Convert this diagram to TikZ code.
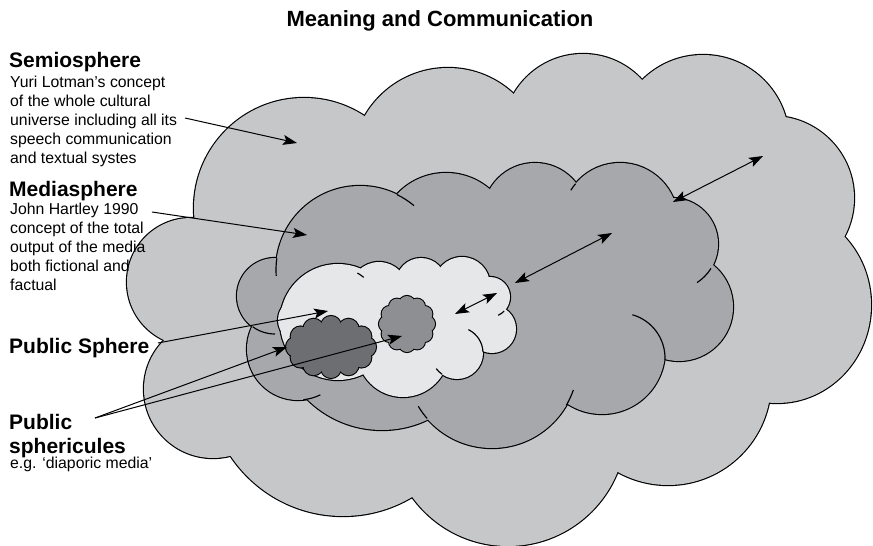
\documentclass[tikz,border=0pt]{standalone}
\usepackage{fontspec}
\setmainfont{Liberation Sans}
\usetikzlibrary{arrows.meta}

\definecolor{semio}{HTML}{C6C7C9}
\definecolor{media}{HTML}{A7A8AB}
\definecolor{publ}{HTML}{E6E7E8}
\definecolor{sphdark}{HTML}{6D6E71}
\definecolor{sphmid}{HTML}{8E8F92}

% lobes of each cloud: centre x / centre y / x radius / y radius
\newcommand\semiolobes{304/208/110/110, 448/164/96/96, 583/134/80/80,
  703/141/86/86, 772/198/82/82, 777/305/94/98, 668/382/103/103,
  508/428/118/118, 343/381/135/135, 213/389/69/69, 191/282/64/64}
\newcommand\medialobes{360/270/84/84, 446/240/67/67, 535/215/52/52,
  620/221/58/58, 672/244/46/46, 679/307/54/54, 602/351/63/63,
  492/362/86/86, 382/324/106/106, 298/349/51/51, 275/296/38/38}
\newcommand\publobes{338/308/40/40, 379/291/29/29, 421/283/25/25,
  462/285/28/28, 490/297/20/20, 492/329/24/24, 457/353/26/26,
  403/351/46/46, 338/322/58/58, 300/320/22/22}

% a cloud = union of lobes: thick outlines first, then the fill hides
% the inner half of every stroke and all inner crossings
\newcommand\cloudshape[3]{%
  \foreach \cx/\cy/\rx/\ry in #1 {
    \draw[line width=2.3pt] (\cx,\cy) ellipse[x radius=\rx pt, y radius=\ry pt];}
  \foreach \cx/\cy/\rx/\ry in #1 {
    \fill[#3] (\cx,\cy) ellipse[x radius=\rx pt, y radius=\ry pt];}
  \fill[#3] #2;
}
% loose end of a lobe outline running on inside the cloud:
% centre x, centre y, radius, from / to angle (clockwise, screen sense)
\newcommand\stub[5]{%
  \draw[line width=1.15pt] ([shift={(-#4:#3pt)}]#1,#2) arc[start angle=-#4, end angle=-#5, radius=#3pt];
}
% small scalloped cloud: ring of bumps round an elliptic core
\newcommand\puff[6]{% cx, cy, ring rx, ring ry, bump radius, colour
  \foreach \a in {0,30,...,330} {
    \draw[line width=2.1pt] ({#1+#3*cos(\a)},{#2+#4*sin(\a)}) circle[radius=#5pt];}
  \foreach \a in {0,30,...,330} {
    \fill[#6] ({#1+#3*cos(\a)},{#2+#4*sin(\a)}) circle[radius=#5pt];}
  \fill[#6] (#1,#2) ellipse[x radius=#3 pt, y radius=#4 pt];
}

\tikzset{
  tip/.tip={Stealth[length=14pt,width=10pt,inset=3pt]},
  ptr/.style={line width=1pt, -tip},
  dptr/.style={line width=1pt, tip-tip},
  heading/.style={font=\bfseries\fontsize{21}{24}\selectfont, inner sep=0pt,
    anchor=base west, align=left},
  body/.style={font=\fontsize{15.8}{19}\selectfont, inner sep=0pt,
    anchor=base west, align=left},
}

\begin{document}
\begin{tikzpicture}[x=1pt,y=-1pt]
\useasboundingbox (0,0) rectangle (873,546);

% nested spheres
\cloudshape{\semiolobes}{(378,130) -- (515,112) -- (637,101) -- (772,133) -- (823,236)
  -- (755,381) -- (614,452) -- (416,477) -- (249,446) -- (185,338) -- (212,228) -- cycle}{semio}
\cloudshape{\medialobes}{(290,263) -- (399,208) -- (490,202) -- (575,196) -- (663,208)
  -- (697,270) -- (656,348) -- (562,392) -- (427,406) -- (310,384) -- (265,326) -- cycle}{media}
\stub{360}{270}{84}{188}{176}
\stub{360}{270}{84}{-64}{-50}
\stub{620}{221}{58}{220}{212}
\stub{672}{244}{46}{32}{57}
\stub{620}{358}{45}{2}{-74}
\stub{492}{362}{86}{30}{19}
\stub{492}{362}{86}{139}{149}
\stub{298}{349}{51}{84}{64}
\stub{275}{296}{38}{126}{90}

\cloudshape{\publobes}{(308,305) -- (358,281) -- (400,279) -- (440,275) -- (480,281)
  -- (495,310) -- (477,346) -- (440,366) -- (366,367) -- (288,328) -- cycle}{publ}
\stub{338}{308}{40}{-61}{-50}
\stub{490}{297}{20}{45}{66}
\stub{457}{353}{26}{125}{143}
\stub{457}{353}{26}{-2}{-64}

% public sphericules
\puff{331}{347}{35}{21}{10}{sphdark}
\puff{407}{324}{20}{20}{8}{sphmid}

% title and labels (multi-line nodes sit on the baseline of their last line)
\node[font=\bfseries\fontsize{22}{26}\selectfont, anchor=base] (title) at (440,27)
  {Meaning and Communication};

\node[heading] (semiohead) at (9,67) {Semiosphere};
\node[body] (semiotext) at (10,163) {Yuri Lotman’s concept\\of the whole cultural\\
  universe including all its\\speech communication\\and textual systes};

\node[heading] (mediahead) at (9,196) {Mediasphere};
\node[body] (mediatext) at (10,290) {John Hartley 1990\\concept of the total\\
  output of the media\\both fictional and\\factual};

\node[heading] (pubhead) at (9,353) {Public Sphere};

\node[heading] (sphhead) at (9,453) {Public\\sphericules};
\node[body] (sphtext) at (10,468) {e.g. ‘diaporic media’};

% pointer ends
\coordinate (semioFrom) at (185,118);
\coordinate (semioTo) at (297,143);
\coordinate (mediaFrom) at (152,212);
\coordinate (mediaTo) at (307,235);
\coordinate (pubFrom) at (158,343);
\coordinate (pubTo) at (328,311);
\coordinate (sphFrom) at (95,418);
\coordinate (sphToA) at (287,347);
\coordinate (sphToB) at (402,336);
\coordinate (xA1) at (455,314);
\coordinate (xA2) at (497,293);
\coordinate (xB1) at (515,283);
\coordinate (xB2) at (612,233);
\coordinate (xC1) at (673,202);
\coordinate (xC2) at (763,156);

\draw[ptr] (semioFrom) -- (semioTo);
\draw[ptr] (mediaFrom) -- (mediaTo);
\draw[ptr] (pubFrom) -- (pubTo);
\draw[ptr] (sphFrom) -- (sphToA);
\draw[ptr] (sphFrom) -- (sphToB);
\draw[dptr] (xA1) -- (xA2);
\draw[dptr] (xB1) -- (xB2);
\draw[dptr] (xC1) -- (xC2);
\end{tikzpicture}
\end{document}
